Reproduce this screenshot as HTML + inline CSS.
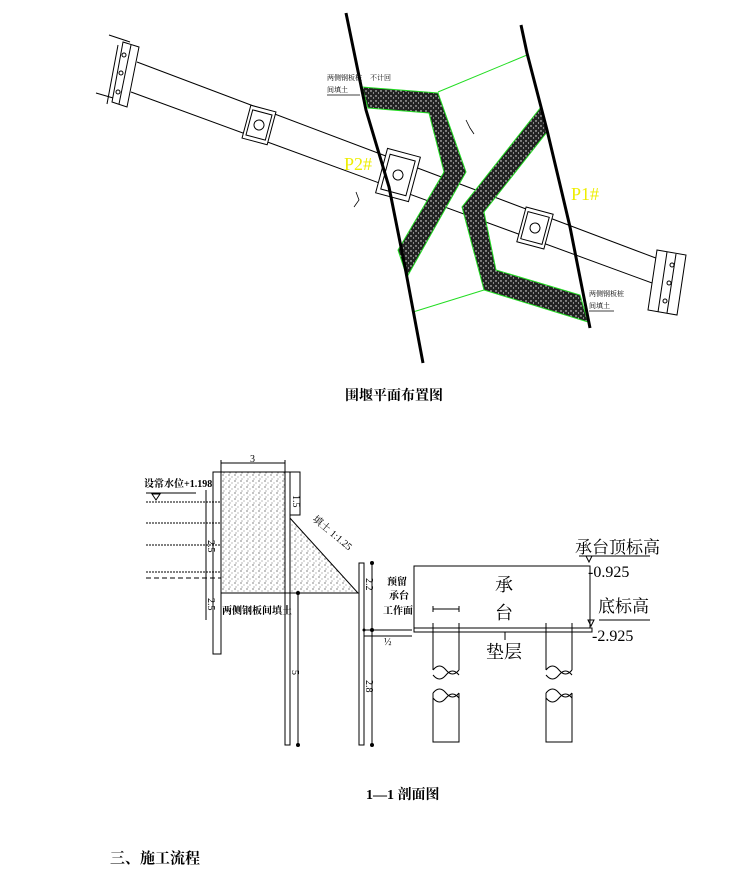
<!DOCTYPE html>
<html><head><meta charset="utf-8"><style>
html,body{margin:0;padding:0;background:#fff;}
svg{display:block;}
text{font-family:"Liberation Serif","Noto Serif CJK SC","Noto Sans CJK SC",serif;}
</style></head><body>
<svg width="735" height="869" viewBox="0 0 735 869" xmlns="http://www.w3.org/2000/svg">
<defs>
<pattern id="dk" width="5" height="5" patternUnits="userSpaceOnUse">
<rect width="5" height="5" fill="#222"/><circle cx="1" cy="1" r="0.7" fill="#fff"/><circle cx="3.5" cy="3" r="0.6" fill="#ddd"/>
</pattern>
<pattern id="lt" width="6" height="6" patternUnits="userSpaceOnUse">
<rect width="6" height="6" fill="#fff"/><circle cx="1" cy="1" r="0.6" fill="#333"/><circle cx="4" cy="3" r="0.5" fill="#555"/><circle cx="2" cy="5" r="0.5" fill="#444"/>
</pattern>
</defs>
<!-- PLAN -->
<g stroke="#000" fill="none" stroke-width="1">
<line x1="137" y1="62" x2="669" y2="263"/>
<line x1="131" y1="92" x2="663" y2="287"/>
<line x1="109" y1="35" x2="130" y2="42"/>
<line x1="96" y1="93" x2="120" y2="100"/>
<polygon points="123,42 139,47 127,107 112,102" fill="#fff"/>
<line x1="118" y1="45" x2="107" y2="104"/><line x1="131" y1="45" x2="119" y2="104"/>
<circle cx="124" cy="55" r="2"/><circle cx="121" cy="73" r="2"/><circle cx="118" cy="92" r="2"/>
<polygon points="657,250 686,255 677,315 648,310" fill="#fff"/>
<line x1="667" y1="252" x2="658" y2="312"/><line x1="676" y1="254" x2="667" y2="313"/>
<circle cx="672" cy="265" r="2"/><circle cx="669" cy="283" r="2"/><circle cx="665" cy="301" r="2"/>
<g transform="rotate(15 259 125)"><rect x="246" y="108" width="26" height="34" fill="#fff"/><rect x="249" y="112" width="20" height="26"/><circle cx="259" cy="125" r="5"/></g>
<g transform="rotate(15 398 175)"><rect x="381" y="152" width="34" height="46" fill="#fff"/><rect x="385" y="157" width="26" height="36"/><circle cx="398" cy="175" r="5"/></g>
<g transform="rotate(15 535 228)"><rect x="521" y="210" width="28" height="36" fill="#fff"/><rect x="524" y="214" width="22" height="28"/><circle cx="535" cy="228" r="5"/></g>
</g>
<!-- cofferdams -->
<polygon points="362,87 438,93 466,172 407,277 398,250 444,172 429,113 368,108" fill="url(#dk)" stroke="#2d2" stroke-width="1"/>
<polygon points="541,107 462,207 484,290 588,322 580,295 496,270 484,212 547,132" fill="url(#dk)" stroke="#2d2" stroke-width="1"/>
<g stroke="#2d2" stroke-width="1" fill="none">
<line x1="438" y1="92" x2="527" y2="55"/><line x1="413" y1="312" x2="484" y2="290"/>
</g>
<g stroke="#000" stroke-width="3" fill="none">
<polyline points="346,13 366,110 389,187 405,267 423,363"/>
<polyline points="521,25 527,53 547,130 562,193 570,227 590,328"/>
</g>
<g font-size="7" fill="#000">
<text x="327" y="80">两侧钢板桩</text><text x="327" y="92">间填土</text><text x="370" y="80">不计回</text>
<text x="589" y="296">两侧钢板桩</text><text x="589" y="308">间填土</text>
</g>
<g stroke="#000" stroke-width="0.8"><line x1="327" y1="95" x2="360" y2="95"/><line x1="589" y1="311" x2="614" y2="311"/></g>
<g stroke="#000" stroke-width="0.8" fill="none"><polyline points="466,120 470,128 474,134"/><polyline points="356,192 359,200 354,207"/></g>
<text x="344" y="170" font-size="18" fill="#ee0">P2#</text>
<text x="571" y="200" font-size="18" fill="#ee0">P1#</text>
<text x="345" y="400" font-size="14" font-weight="bold" fill="#000" font-family="Liberation Serif,Noto Serif CJK SC,serif">围堰平面布置图</text>
<!-- SECTION -->
<g stroke="#000" stroke-width="1" fill="none">
<line x1="221" y1="463" x2="285" y2="463"/><line x1="221" y1="460" x2="221" y2="472"/><line x1="285" y1="460" x2="285" y2="472"/>
<rect x="221" y="472" width="64" height="121" fill="url(#lt)"/>
<polygon points="289,517 358,593 289,593" fill="url(#lt)"/>
<rect x="213" y="472" width="8" height="182" fill="#fff"/>
<rect x="285" y="472" width="5" height="273" fill="#fff"/>
<line x1="221" y1="593" x2="358" y2="593"/>
<polyline points="290,472 300,472 300,515 290,515"/>
<line x1="298" y1="593" x2="298" y2="745"/>
<rect x="359" y="563" width="5" height="182" fill="#fff"/>
<line x1="372" y1="563" x2="372" y2="745"/>
<line x1="364" y1="630" x2="412" y2="630"/><line x1="364" y1="636" x2="412" y2="636"/>
<rect x="414" y="566" width="176" height="62"/>
<rect x="414" y="628" width="178" height="4"/>
<line x1="505" y1="632" x2="505" y2="640"/>
<path d="M433 623V670M459 623V670M433 693V742H459V693M546 623V670M572 623V670M546 693V742H572V693"/>
<path d="M433 670q6.5 -8 13 0t13 0M433 675q6.5 8 13 0t13 0M433 693q6.5 -8 13 0t13 0M433 698q6.5 8 13 0t13 0"/>
<path d="M546 670q6.5 -8 13 0t13 0M546 675q6.5 8 13 0t13 0M546 693q6.5 -8 13 0t13 0M546 698q6.5 8 13 0t13 0"/>
<path d="M433 609H459M433 606V612M459 606V612"/>
<path d="M579 556H650M599 620H650"/>
<path d="M586 556l3 6 3 -6zM588 620l3 6 3 -6z"/>
<path d="M146 493H196M152 494l4 6 4 -6z"/>
<g stroke-dasharray="2,1"><path d="M146 502H221M146 523H221M146 545H221M146 572H221"/></g>
<path d="M146 578H221" stroke-dasharray="5,3"/>
<line x1="206" y1="490" x2="206" y2="620"/>
</g>
<g fill="#000"><circle cx="298" cy="593" r="2"/><circle cx="298" cy="745" r="2"/><circle cx="372" cy="563" r="2"/><circle cx="372" cy="630" r="2"/><circle cx="372" cy="745" r="2"/><circle cx="364" cy="630" r="1.5"/></g>
<g font-size="10" fill="#000">
<text x="144" y="487" font-weight="bold">设常水位+1.198</text>
<text x="250" y="462">3</text>
<text x="222" y="614" font-weight="bold">两侧钢板间填土</text>
<text x="312" y="520" transform="rotate(40 312 520)">填土 1:1.25</text>
<text x="387" y="585" font-weight="bold">预留</text><text x="389" y="599" font-weight="bold">承台</text><text x="383" y="614" font-weight="bold">工作面</text>
<text x="293" y="495" transform="rotate(90 293 495)">1.5</text>
<text x="292" y="670" transform="rotate(90 292 670)">5</text>
<text x="366" y="578" transform="rotate(90 366 578)">2.2</text>
<text x="366" y="680" transform="rotate(90 366 680)">2.8</text>
<text x="208" y="540" transform="rotate(90 208 540)">2.5</text>
<text x="208" y="598" transform="rotate(90 208 598)">2.5</text>
<text x="384" y="645">½</text>
</g>
<g font-size="18" fill="#000" font-family="Liberation Sans,Noto Sans CJK SC,sans-serif">
<text x="495" y="591">承</text><text x="495" y="619">台</text><text x="486" y="658">垫层</text>
<text x="575" y="553" font-size="17">承台顶标高</text>
<text x="588" y="577" font-size="16">-0.925</text>
<text x="598" y="612" font-size="17">底标高</text>
<text x="592" y="641" font-size="16">-2.925</text>
</g>
<text x="366" y="799" font-size="14" font-weight="bold" fill="#000">1—1 剖面图</text>
<text x="110" y="863" font-size="15" font-weight="bold" fill="#000">三、施工流程</text>
</svg>
</body></html>
